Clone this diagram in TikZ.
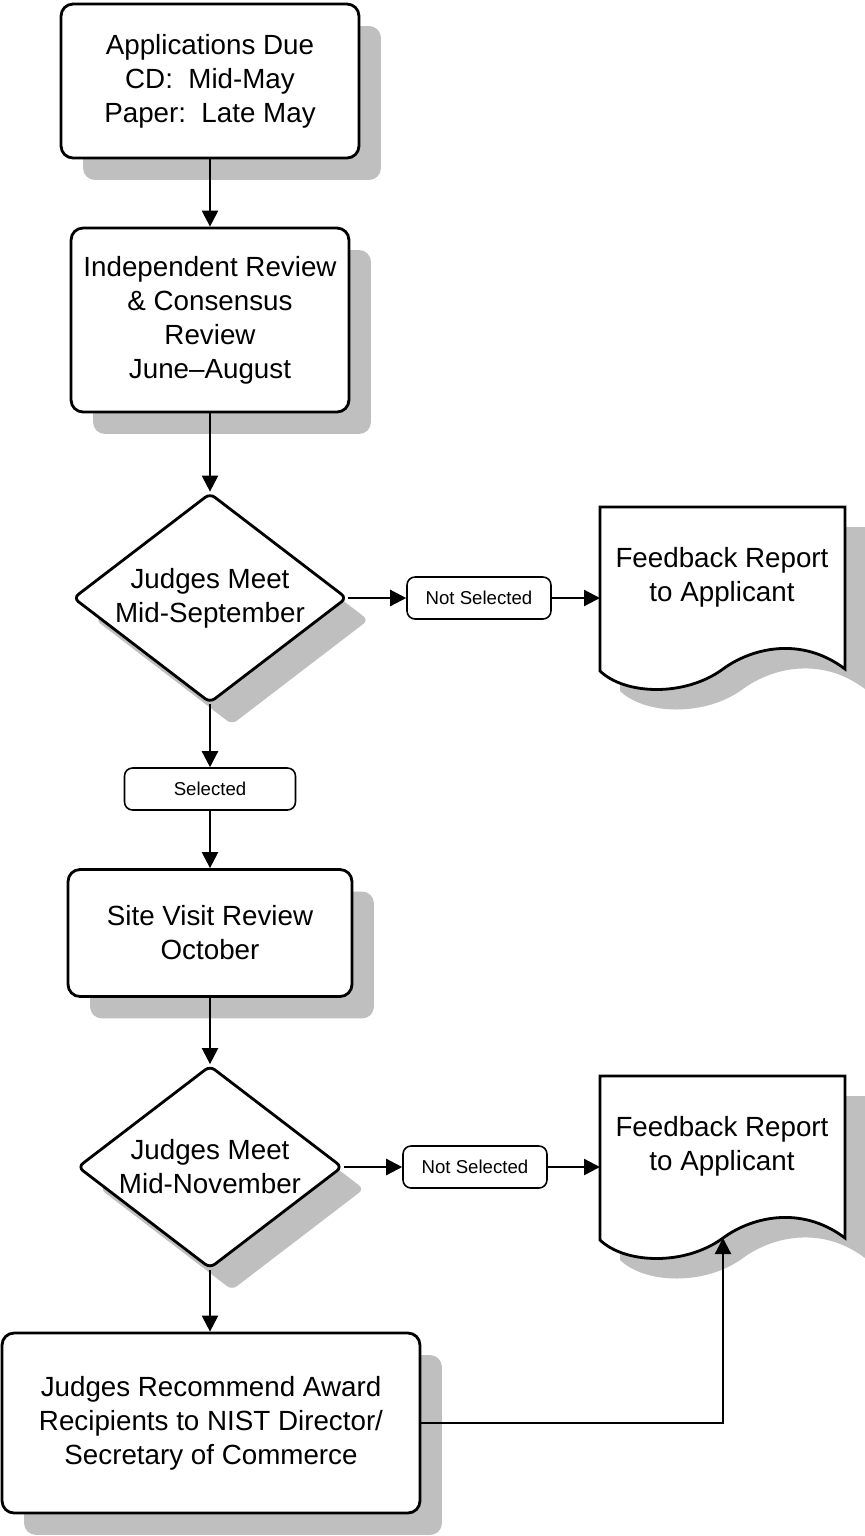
\documentclass[tikz,border=0pt]{standalone}
\usepackage{fontspec}
\setmainfont{Liberation Sans}
\usetikzlibrary{arrows.meta,shapes.geometric,shadows}
\colorlet{shadowgray}{black!25}

\tikzset{
  boxshadow/.style={drop shadow={shadow xshift=0.44cm,shadow yshift=-0.44cm,fill=shadowgray,opacity=1}},
  stepbox/.style={draw,line width=1.6pt,fill=white,rounded corners=0.24cm,inner sep=0pt,
    align=center,font=\fontsize{15.8}{19.3}\selectfont,boxshadow},
  decision/.style={stepbox,diamond,aspect=1.3,rounded corners=0.12cm},
  outcome/.style={draw,line width=0.9pt,fill=white,rounded corners=0.16cm,inner sep=0pt,
    minimum height=0.84cm,font=\fontsize{10.6}{12}\selectfont},
  doctext/.style={align=center,font=\fontsize{15.8}{19.3}\selectfont},
  flow/.style={line width=1.3pt,-{Triangle[length=0.32cm,width=0.32cm]}},
  feedback/.pic={
    \filldraw[fill=white,line width=1.6pt,
      drop shadow={shadow xshift=0.4cm,shadow yshift=-0.4cm,fill=shadowgray,opacity=1}]
      (0,0) coordinate (-nw) -- (245,0) -- (245,162)
      .. controls (200,128) and (150,142) .. (123,162) coordinate (-in)
      .. controls (85,190) and (25,188) .. (0,164) -- cycle;
  }
}

\begin{document}
\begin{tikzpicture}[x=0.02cm,y=-0.02cm]
  \useasboundingbox (0,0) rectangle (865,1536);

  % main column
  \node[stepbox,minimum width=5.96cm,minimum height=3.08cm] (due) at (210,81)
    {Applications Due\\CD:\ \ Mid-May\\Paper:\ \ Late May};
  \node[stepbox,minimum width=5.56cm,minimum height=3.68cm] (review) at (210,320)
    {Independent Review\\\& Consensus\\Review\\June--August};
  \node[decision,minimum width=5.48cm,minimum height=4.2cm] (meet1) at (210,598)
    {Judges Meet\\Mid-September};
  \node[outcome,minimum width=3.42cm] (sel) at (210,789) {Selected};
  \node[stepbox,minimum width=5.68cm,minimum height=2.54cm] (site) at (210,933)
    {Site Visit Review\\October};
  \node[decision,minimum width=5.3cm,minimum height=4.06cm] (meet2) at (210,1167)
    {Judges Meet\\Mid-November};
  \node[stepbox,minimum width=8.36cm,minimum height=3.6cm] (recommend) at (211,1423)
    {Judges Recommend Award\\Recipients to NIST Director/\\Secretary of Commerce};

  % feedback branch
  \node[outcome,minimum width=2.88cm] (notsel1) at (479,598) {Not Selected};
  \pic (report1) at (600,507) {feedback};
  \node[doctext] (report1txt) at (722,577) {Feedback Report\\to Applicant};
  \node[outcome,minimum width=2.88cm] (notsel2) at (475,1167) {Not Selected};
  \pic (report2) at (600,1076) {feedback};
  \node[doctext] (report2txt) at (722,1146) {Feedback Report\\to Applicant};

  \draw[flow] (due.south) -- (review.north);
  \draw[flow] (review.south) -- (meet1.north);
  \draw[flow] (meet1.east) -- (notsel1.west);
  \draw[flow] (notsel1.east) -- (notsel1.east -| report1-nw);
  \draw[flow] (meet1.south) -- (sel.north);
  \draw[flow] (sel.south) -- (site.north);
  \draw[flow] (site.south) -- (meet2.north);
  \draw[flow] (meet2.east) -- (notsel2.west);
  \draw[flow] (notsel2.east) -- (notsel2.east -| report2-nw);
  \draw[flow] (meet2.south) -- (meet2.south |- recommend.north);
  \draw[flow] (recommend.east) -| (report2-in);
\end{tikzpicture}
\end{document}
